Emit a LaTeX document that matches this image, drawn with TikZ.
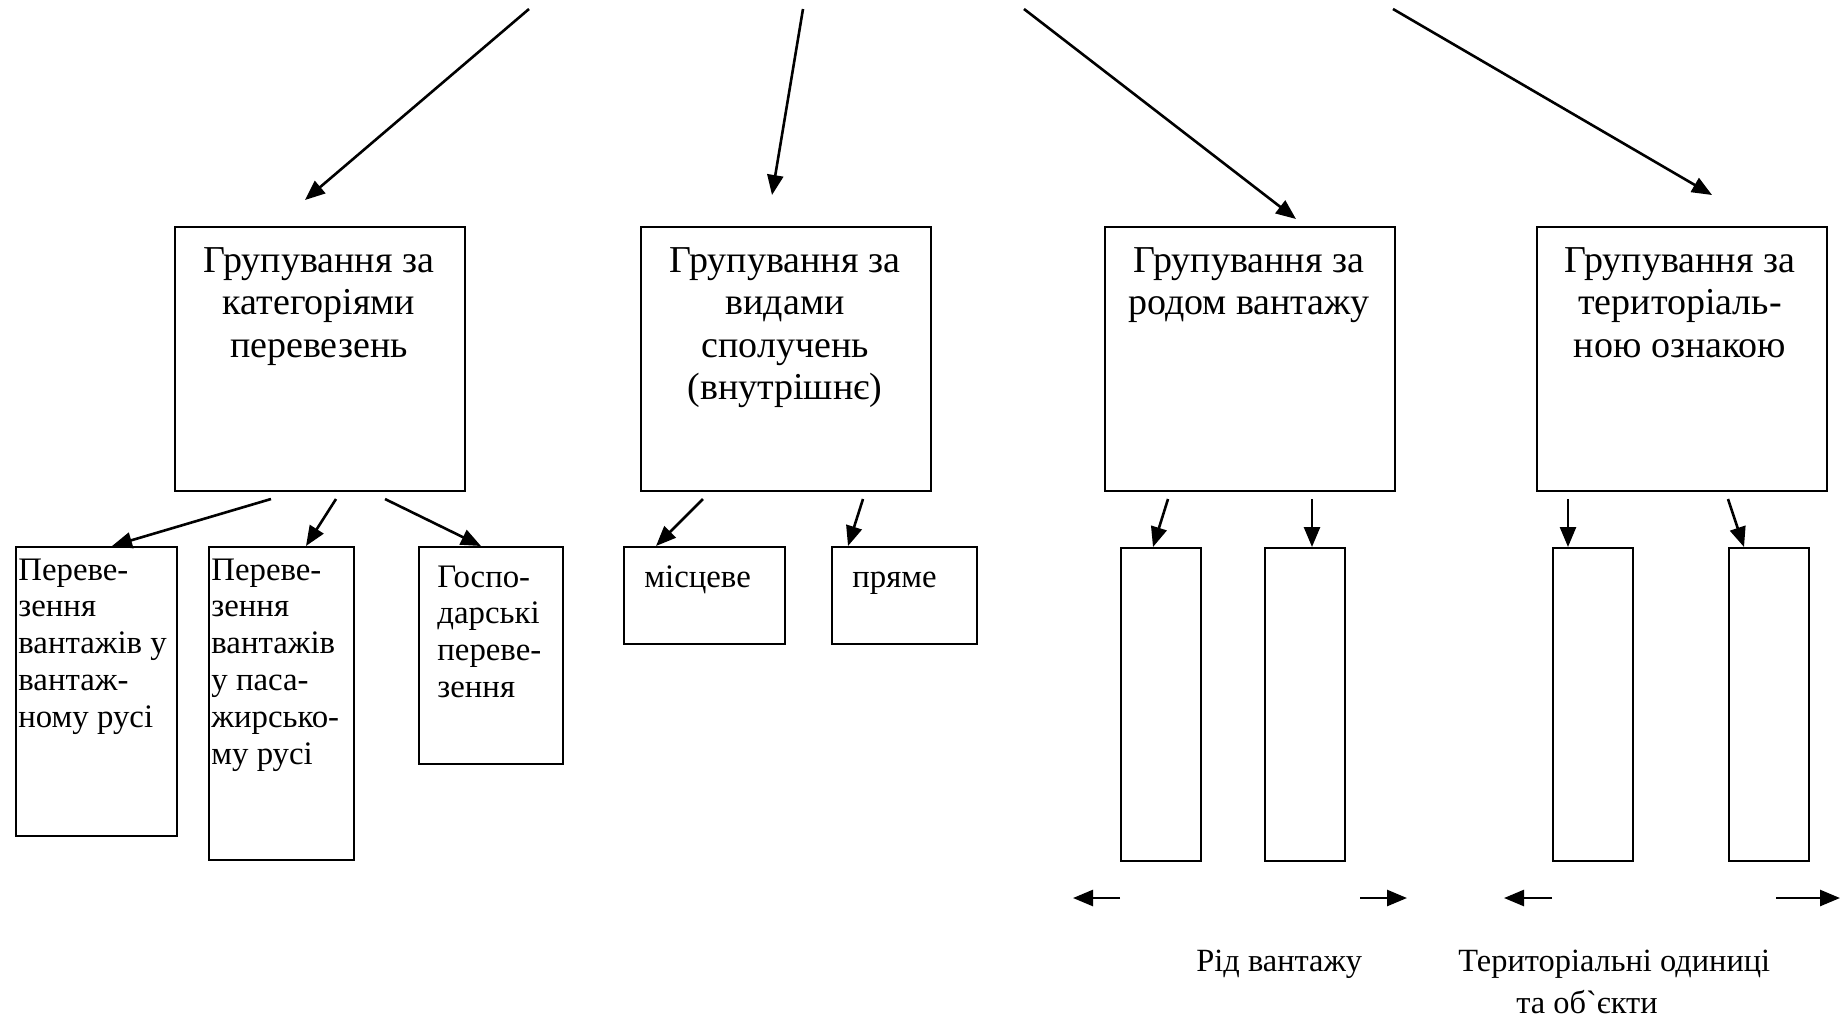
\documentclass[tikz,border=0pt]{standalone}
\usepackage{fontspec}
\setmainfont{Liberation Serif}
\newfontfamily\rawserif{Liberation Serif}[Ligatures=TeXOff]
\usetikzlibrary{arrows.meta,calc}

\begin{document}
\begin{tikzpicture}[x=0.5pt, y=-0.5pt,
  frame/.style={draw, line width=1pt, inner sep=0pt, anchor=north west},
  bigbox/.style={frame, minimum width=145pt, minimum height=132pt},
  conn/.style={line width=1.3pt, -{Triangle[length=10pt,width=8pt]}},
  bigtext/.style={inner sep=0pt, anchor=base, font=\fontsize{19}{21.3}\selectfont},
  smalltext/.style={inner sep=0pt, anchor=base west, font=\fontsize{16.4}{18.4}\selectfont},
  capt/.style={inner sep=0pt, font=\fontsize{16.2}{21}\selectfont},
]
\useasboundingbox (0,0) rectangle (1847,1019);

% main grouping boxes
\node[bigbox] (g1) at (174,226) {};
\node[bigbox] (g2) at (640,226) {};
\node[bigbox] (g3) at (1104,226) {};
\node[bigbox] (g4) at (1536,226) {};

\node[bigtext] (g1t) at (319,272) {\parbox[t]{140pt}{\centering Групування за\\категоріями\\перевезень}};
\node[bigtext] (g2t) at (785,272) {\parbox[t]{140pt}{\centering Групування за\\видами\\сполучень\\(внутрішнє)}};
\node[bigtext] (g3t) at (1249,272) {\parbox[t]{140pt}{\centering Групування за\\родом вантажу}};
\node[bigtext] (g4t) at (1680,272) {\parbox[t]{140pt}{\centering Групування за\\територіаль-\\ною ознакою}};

% incoming arrows from above
\coordinate (s1) at (529,9);   \coordinate (e1) at (305,200);
\coordinate (s2) at (803,9);   \coordinate (e2) at (772,195);
\coordinate (s3) at (1024,9);  \coordinate (e3) at (1296,219);
\coordinate (s4) at (1393,9);  \coordinate (e4) at (1712,195);
\draw[conn] (s1) -- (e1);
\draw[conn] (s2) -- (e2);
\draw[conn] (s3) -- (e3);
\draw[conn] (s4) -- (e4);

% sub-boxes
\node[frame, minimum width=80.5pt, minimum height=144.5pt] (p1) at (15,546) {};
\node[frame, minimum width=72.5pt, minimum height=156.5pt] (p2) at (208,546) {};
\node[frame, minimum width=72pt,   minimum height=108.5pt] (p3) at (418,546) {};
\node[frame, minimum width=80.5pt, minimum height=48.5pt]  (p4) at (623,546) {};
\node[frame, minimum width=72.5pt, minimum height=48.5pt]  (p5) at (831,546) {};
\node[frame, minimum width=40pt, minimum height=156.5pt] (p6) at (1120,547) {};
\node[frame, minimum width=40pt, minimum height=156.5pt] (p7) at (1264,547) {};
\node[frame, minimum width=40pt, minimum height=156.5pt] (p8) at (1552,547) {};
\node[frame, minimum width=40pt, minimum height=156.5pt] (p9) at (1728,547) {};

\node[smalltext] (p1t) at (18,580) {\parbox[t]{80pt}{\raggedright Переве-\\зення\\вантажів у\\вантаж-\\ному русі}};
\node[smalltext] (p2t) at (211,580) {\parbox[t]{72pt}{\raggedright Переве-\\зення\\вантажів\\у паса-\\жирсько-\\му русі}};
\node[smalltext] (p3t) at (437,587) {\parbox[t]{64pt}{\raggedright Госпо-\\дарські\\переве-\\зення}};
\node[smalltext] (p4t) at (644,587) {місцеве};
\node[smalltext] (p5t) at (852,587) {пряме};

% arrows to sub-boxes
\draw[conn] ($(g1.south west)+(97,7)$)  -- ($(p1.north west)+(97,0)$);
\draw[conn] ($(g1.south west)+(162,7)$) -- ($(p2.north west)+(98,0)$);
\draw[conn] ($(g1.south west)+(211,7)$) -- ($(p3.north west)+(63,0)$);
\draw[conn] ($(g2.south west)+(63,7)$)  -- ($(p4.north west)+(33,0)$);
\draw[conn] ($(g2.south west)+(223,7)$) -- ($(p5.north west)+(17,0)$);
\draw[conn] ($(g3.south west)+(64,7)$)  -- ($(p6.north west)+(33,0)$);
\draw[conn] ($(g3.south west)+(208,7)$) -- ($(p7.north west)+(48,0)$);
\draw[conn] ($(g4.south west)+(32,7)$)  -- ($(p8.north west)+(16,0)$);
\draw[conn] ($(g4.south west)+(192,7)$) -- ($(p9.north west)+(16,0)$);

% range arrows below the narrow boxes
\coordinate (h1a) at (1120,898); \coordinate (h1b) at (1073,898);
\coordinate (h2a) at (1360,898); \coordinate (h2b) at (1407,898);
\coordinate (h3a) at (1552,898); \coordinate (h3b) at (1504,898);
\coordinate (h4a) at (1776,898); \coordinate (h4b) at (1840,898);
\draw[conn] (h1a) -- (h1b);
\draw[conn] (h2a) -- (h2b);
\draw[conn] (h3a) -- (h3b);
\draw[conn] (h4a) -- (h4b);

% captions
\node[capt, anchor=base west] (c1) at (1196,971) {Рід вантажу};
\node[capt, anchor=base west] (c2) at (1458,971) {Територіальні одиниці};
\node[capt, anchor=base, font=\rawserif\fontsize{16.2}{21}\selectfont] (c3) at (1587,1013) {та об`єкти};
\end{tikzpicture}
\end{document}
